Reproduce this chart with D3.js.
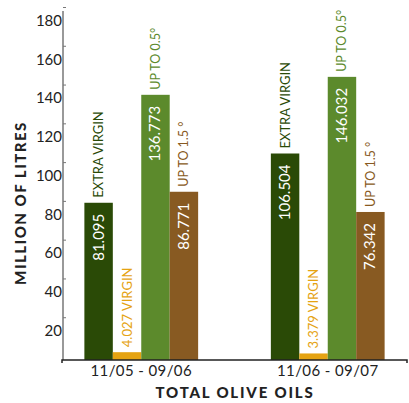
<!DOCTYPE html>
<html>
<head>
<meta charset="utf-8">
<script src="https://cdn.jsdelivr.net/npm/d3@7"></script>
<style>
  html, body { margin: 0; padding: 0; background: #fff; }
  svg { display: block; font-family: Lato, "Open Sans", sans-serif; }
</style>
</head>
<body>
<svg id="chart" width="409" height="403"></svg>
<script>
// Olive oil volumes by marketing season, million litres
const periods = ["11/05 - 09/06", "11/06 - 09/07"];
const grades = ["EXTRA VIRGIN", "VIRGIN", "UP TO 0.5°", "UP TO 1.5 °"];
const extraVirgin = [81.095, 106.504];
const virgin = [4.027, 3.379];
const upTo05 = [136.773, 146.032];
const upTo15 = [86.771, 76.342];
const yTicks = [20, 40, 60, 80, 100, 120, 140, 160, 180];

const gradeColors = ["#2a4a06", "#e5a312", "#5c8a2c", "#885a22"];

const series = [extraVirgin, virgin, upTo05, upTo15];
const rows = periods.map((p, i) => ({
  period: p,
  values: grades.map((g, k) => ({ grade: g, k, value: series[k][i] }))
}));

const svg = d3.select("#chart");

const y = d3.scaleLinear().domain([0, 180]).range([360, 11]);
const x0 = d3.scaleBand().domain(periods).range([62, 407])
  .paddingInner(0.39).paddingOuter(0.12);
const x1 = d3.scaleBand().domain(grades).range([0, x0.bandwidth()]);

const fmt = d3.format(".3f");

// Bars
const groups = svg.append("g").selectAll("g").data(rows).join("g")
  .attr("transform", d => `translate(${x0(d.period)},0)`);

groups.selectAll("rect").data(d => d.values).join("rect")
  .attr("x", d => x1(d.grade))
  .attr("width", x1.bandwidth())
  .attr("y", d => y(d.value))
  .attr("height", d => y(0) - y(d.value))
  .attr("fill", d => gradeColors[d.k]);

// Grade names above bars (virgin bars carry their value in the same label)
groups.selectAll("text.name").data(d => d.values).join("text")
  .attr("class", "name")
  .attr("transform", d => `translate(${x1(d.grade) + x1.bandwidth() / 2 + 4.5},${y(d.value) - 5}) rotate(-90)`)
  .attr("text-anchor", "start")
  .attr("font-size", d => d.k === 0 || d.k === 1 ? 13 : 12.5)
  .attr("fill", d => gradeColors[d.k])
  .text(d => d.k === 1 ? `${fmt(d.value)} ${d.grade}` : d.grade);

// Values inside the taller bars
groups.selectAll("text.value").data(d => d.values.filter(v => v.k !== 1)).join("text")
  .attr("class", "value")
  .attr("transform", d => `translate(${x1(d.grade) + x1.bandwidth() / 2 + 5},${y(d.value) + 11}) rotate(-90)`)
  .attr("text-anchor", "end")
  .attr("font-size", 15)
  .attr("fill", "#ffffff")
  .text(d => fmt(d.value));

// Y axis
const yAxis = svg.append("g")
  .attr("transform", "translate(63,0)")
  .call(d3.axisLeft(y).tickValues(yTicks).tickSize(-3).tickPadding(1).tickFormat(d3.format("d")));
yAxis.select(".domain").attr("stroke", "#777").attr("stroke-width", 1.5)
  .attr("d", `M0,${y(180)}V${y(0)}`);
yAxis.selectAll(".tick line").attr("stroke", "#777").attr("transform", "translate(0,-4)");
yAxis.selectAll(".tick text")
  .attr("font-size", 15).attr("fill", "#222").attr("dy", "0.95em")
  .attr("font-family", "Lato, sans-serif");

// X axis
const xAxis = svg.append("g")
  .attr("transform", `translate(0,${y(0)})`)
  .call(d3.axisBottom(x0).tickSize(0).tickPadding(5));
xAxis.select(".domain").attr("stroke", "#222").attr("stroke-width", 1.5)
  .attr("d", "M62,3V0H407V3");
xAxis.selectAll(".tick text")
  .attr("font-size", 15).attr("fill", "#222").attr("letter-spacing", 0.4)
  .attr("font-family", "Lato, sans-serif");

// Axis titles
svg.append("text")
  .attr("x", 235).attr("y", 398)
  .attr("text-anchor", "middle")
  .attr("font-size", 15).attr("font-weight", 900).attr("letter-spacing", 1.8)
  .attr("fill", "#222")
  .text("TOTAL OLIVE OILS");

svg.append("text")
  .attr("transform", "translate(26,203) rotate(-90)")
  .attr("text-anchor", "middle")
  .attr("font-size", 15).attr("font-weight", 900).attr("letter-spacing", 1.5)
  .attr("fill", "#222")
  .text("MILLION OF LITRES");
</script>
</body>
</html>
